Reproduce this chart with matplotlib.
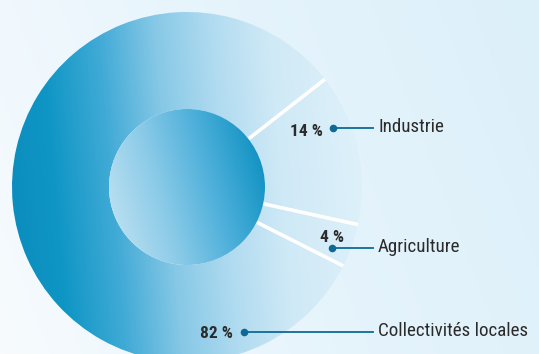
import numpy as np
import matplotlib.pyplot as plt
from matplotlib.colors import LinearSegmentedColormap

plt.rcParams['font.family'] = ['Roboto Condensed', 'Noto Sans Condensed', 'Roboto', 'DejaVu Sans']

# data
categories = ['Industrie', 'Agriculture', 'Collectivités locales']
shares = [14, 4, 82]
pct_labels = ['14 %', '4 %', '82 %']

W, H = 539, 354
fig = plt.figure(figsize=(W / 100, H / 100), dpi=100)
ax = fig.add_axes([0, 0, 1, 1])

# background gradient (whitish left -> light blue right)
bg_cmap = LinearSegmentedColormap.from_list('bg', ['#f7fbfe', '#e6f4fc', '#dcf0fa'])
gx, gy = np.meshgrid(np.linspace(0, 1, 300), np.linspace(0, 1, 200))
ax.imshow(0.8 * gx + 0.2 * gy, extent=[0, W, 0, H], origin='lower',
          cmap=bg_cmap, aspect='auto', zorder=0)

cx, cy = 187, 167
R, r_in = 175, 78

wedges, _ = ax.pie(shares, startangle=38, counterclock=False, radius=R,
                   center=(cx, cy),
                   wedgeprops=dict(width=R - r_in, linewidth=0, facecolor='none'))

# ring gradient, dark on the left and pale on the right
ring_cmap = LinearSegmentedColormap.from_list(
    'ring', [(0.0, '#0a8bbb'), (0.15, '#0f96c5'), (0.3, '#40aad6'),
             (0.45, '#86c8e6'), (0.6, '#b0dbf0'), (0.75, '#cfe9f6'), (1.0, '#e0f2fb')])
rx, ry = np.meshgrid(np.linspace(0, 1, 400), np.linspace(0, 1, 400))
ring_img = np.clip(0.92 * rx + 0.08 * ry, 0, 1)
for w in wedges:
    im = ax.imshow(ring_img, extent=[cx - R, cx + R, cy - R, cy + R], origin='lower',
                   cmap=ring_cmap, vmin=0, vmax=1, zorder=1)
    im.set_clip_path(w)

# white separators between segments
for w in wedges:
    t = np.deg2rad(w.theta1)
    ax.plot([cx + r_in * np.cos(t), cx + R * np.cos(t)],
            [cy + r_in * np.sin(t), cy + R * np.sin(t)],
            color='white', lw=2.6, solid_capstyle='butt', zorder=2)

# inner disc with its own gradient
disc_cmap = LinearSegmentedColormap.from_list(
    'disc', ['#bfe2f2', '#8ccbe8', '#4aaed9', '#0a8fc0'])
disc = plt.Circle((cx, cy), r_in, facecolor='none', edgecolor='none')
ax.add_patch(disc)
dx, dy = np.meshgrid(np.linspace(0, 1, 200), np.linspace(0, 1, 200))
dim = ax.imshow(np.clip(0.85 * dx + 0.25 * dy - 0.05, 0, 1),
                extent=[cx - r_in, cx + r_in, cy - r_in, cy + r_in], origin='lower',
                cmap=disc_cmap, vmin=0, vmax=1, zorder=3)
dim.set_clip_path(disc)

# labels with leader lines
dots = [(333, 226), (332, 106), (244, 22)]
pct_pos = [(323, 222, 'right', 'center'), (332, 117, 'center', 'center'),
           (233, 21, 'right', 'center')]
lead = '#0e6a94'
for cat, pct, (x0, y0), (px, py, ha, va) in zip(categories, pct_labels, dots, pct_pos):
    ax.plot([x0, 373], [y0, y0], color=lead, lw=1.3, zorder=4)
    ax.scatter([x0], [y0], s=30, color=lead, zorder=5, linewidths=0)
    ax.text(378, y0 + 1, cat, ha='left', va='center', fontsize=13.7, color='#2b2b2b', zorder=5)
    ax.text(px, py, pct, ha=ha, va=va, fontsize=12.5, fontweight='bold',
            color='#2b2b2b', zorder=5)

ax.set_xlim(0, W)
ax.set_ylim(0, H)
ax.set_aspect('auto')
ax.axis('off')

fig.savefig('out.png', dpi=100)
